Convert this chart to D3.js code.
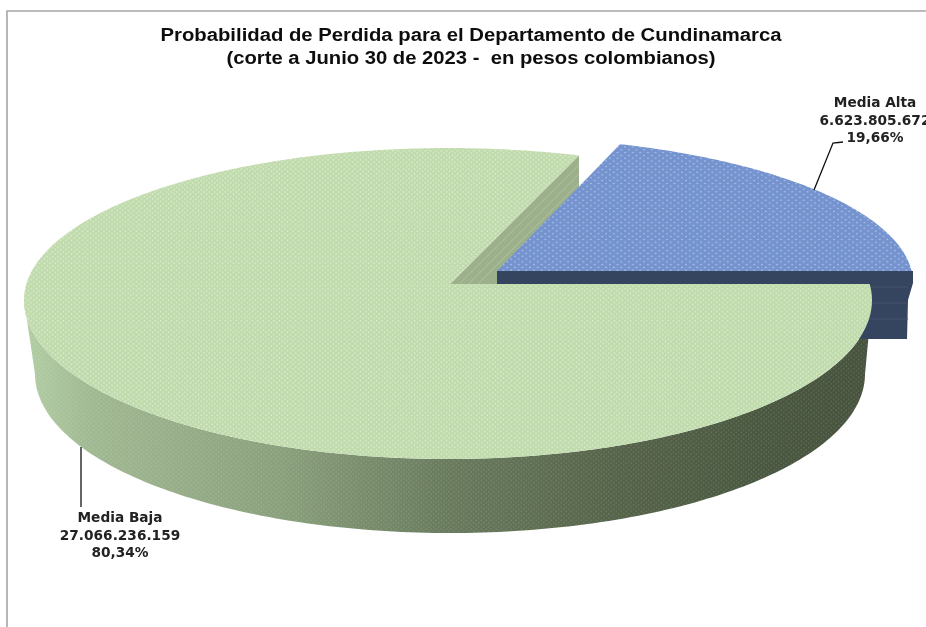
<!DOCTYPE html>
<html><head><meta charset="utf-8">
<script src="https://cdn.jsdelivr.net/npm/d3@7"></script>
<style>html,body{margin:0;padding:0;background:#fff;overflow:hidden}svg{display:block}text{white-space:pre}</style>
</head><body><svg id="c" width="926" height="627"></svg>
<script>
const titleLines = ["Probabilidad de Perdida para el Departamento de Cundinamarca", "(corte a Junio 30 de 2023 -  en pesos colombianos)"];
const titleWidths = [621, 489];
const categories = ["Media Baja", "Media Alta"];
const values = [27066236159, 6623805672];
const valueLabels = ["27.066.236.159", "6.623.805.672"];
const percentLabels = ["80,34%", "19,66%"];
const wallStops = [[0,"#b2cea4"],[.08,"#a0b892"],[.3,"#8aa07c"],[.5,"#687a5c"],[.7,"#556349"],[.9,"#48553e"],[1,"#46523c"]];

const rad = Math.PI/180;
const svg = d3.select("#c");
const defs = svg.append("defs");
const W = 926, H = 627;

// pie layout: angle 0 = north, clockwise
const startDeg = 84;
const pie = d3.pie().sort(null).startAngle(startDeg*rad).endAngle((startDeg+360)*rad);
const arcs = pie(values);
// perspective correction of the pie angles onto the drawn ellipse
const warp = d3.scaleLinear()
  .domain([arcs[0].startAngle, arcs[0].endAngle, arcs[1].endAngle])
  .range([84*rad, 378*rad, 445*rad]);

const mainE = {cx:448, cy:300, rx:424, ryT:152, ryB:159, ax:450, ay:284};
const baseE = {cx:450, cy:374, rx:415, ryT:152, ryB:159};
const blueE = {cx:489, cy:283, rx:424, ryT:146, ryB:146, ax:497, ay:271};
const depth = 74, blueDepth = 68;

const pt = (e,a) => { const c = Math.cos(a); return [e.cx + e.rx*Math.sin(a), e.cy - (c>=0?e.ryT:e.ryB)*c]; };
const sample = (e,a0,a1,n=160) => d3.range(n+1).map(i => pt(e, a0+(a1-a0)*i/n));
const line = d3.line();

function dots(id, base, dot, w, h, r){
  const p = defs.append("pattern").attr("id",id).attr("patternUnits","userSpaceOnUse").attr("width",w).attr("height",h);
  p.append("rect").attr("width",w).attr("height",h).attr("fill",base);
  [[w/4,h/4],[3*w/4,3*h/4]].forEach(d=>p.append("circle").attr("cx",d[0]).attr("cy",d[1]).attr("r",r).attr("fill",dot));
}
dots("gTop","#bfdaab","#dcecd0",5.4,4.6,.9);
dots("bTop","#7594cf","#cfdcf3",7.6,5.6,.65);
dots("wDots","rgba(255,255,255,0)","rgba(255,255,255,.12)",5,4.4,.9);

const grad = defs.append("linearGradient").attr("id","wall").attr("gradientUnits","userSpaceOnUse")
  .attr("x1",mainE.cx-mainE.rx).attr("x2",mainE.cx+mainE.rx).attr("y1",0).attr("y2",0);
wallStops.forEach(s=>grad.append("stop").attr("offset",s[0]).attr("stop-color",s[1]));

const f = defs.append("filter").attr("id","soft").attr("x","-2%").attr("y","-2%").attr("width","104%").attr("height","104%");
f.append("feGaussianBlur").attr("stdDeviation",.45);

const root = svg.append("g").attr("filter","url(#soft)");

// frame
root.append("path").attr("d",line([[7,H],[7,11],[W,11]])).attr("fill","none").attr("stroke","#a6a6a6").attr("stroke-width",1.6);

// green outer wall
const wallPts = sample(mainE,90*rad,270*rad).concat(sample(baseE,270*rad,90*rad));
["url(#wall)","url(#wDots)"].forEach(fl=>root.append("path").attr("d",line(wallPts)+"Z").attr("fill",fl));

// green cut wall
const gEnd = pt(mainE, warp(arcs[0].endAngle));
const cutPts = [[mainE.ax,mainE.ay], gEnd, [gEnd[0],gEnd[1]+depth], [mainE.ax+depth,mainE.ay]];
root.append("path").attr("d",line(cutPts)+"Z").attr("fill","#9db08c");
d3.range(1,4).forEach(i=>{
  const dy = i*depth/8;
  root.append("path").attr("d",line([[gEnd[0],gEnd[1]+dy],[mainE.ax+dy,mainE.ay]])).attr("stroke","#b0c2a0").attr("stroke-width",1).attr("fill","none");
});

// blue wall
const bx = blueE.cx+blueE.rx;
const bWall = [[blueE.ax,blueE.ay],[bx,blueE.ay],[bx,blueE.ay+12],[bx-5,blueE.ay+29],[bx-6,blueE.ay+blueDepth],[blueE.ax,blueE.ay+blueDepth]];
root.append("path").attr("d",line(bWall)+"Z").attr("fill","#35445f");
[16,32,48].forEach(dy=>root.append("path").attr("d",line([[blueE.ax,blueE.ay+dy],[bx-5,blueE.ay+dy]])).attr("stroke","#46556f").attr("stroke-width",1));

// blue top
const bTop = [[blueE.ax,blueE.ay]].concat(sample(blueE, warp(arcs[1].startAngle), warp(arcs[1].endAngle)));
bTop.push([bx-1,blueE.ay]);
root.append("path").attr("d",line(bTop)+"Z").attr("fill","url(#bTop)");

// green top
const gTop = [[mainE.ax,mainE.ay]].concat(sample(mainE, warp(arcs[0].startAngle), warp(arcs[0].endAngle), 400));
root.append("path").attr("d",line(gTop)+"Z").attr("fill","url(#gTop)");

// leader lines
const leaders = [[[81,447],[81,507]],[[814,190],[833,143],[843,142]]];
leaders.forEach(l=>root.append("path").attr("d",line(l)).attr("fill","none").attr("stroke","#111").attr("stroke-width",1.3));

// title
titleLines.forEach((t,i)=>root.append("text").text(t).attr("x",471).attr("y",40.5+i*23)
  .attr("text-anchor","middle").attr("font-family","'Liberation Sans',Arial,sans-serif")
  .attr("textLength",titleWidths[i]).attr("lengthAdjust","spacingAndGlyphs")
  .attr("font-weight","bold").attr("font-size",17.5).attr("fill","#111"));

// data labels
const labelPos = [{x:120,y:522},{x:875,y:107}];
categories.forEach((c,i)=>{
  [c,valueLabels[i],percentLabels[i]].forEach((t,j)=>root.append("text").text(t)
    .attr("x",labelPos[i].x).attr("y",labelPos[i].y+j*17.5)
    .attr("text-anchor","middle").attr("font-family","'DejaVu Sans',sans-serif")
    .attr("font-weight","bold").attr("font-size",13.7).attr("fill","#222"));
});
</script></body></html>
